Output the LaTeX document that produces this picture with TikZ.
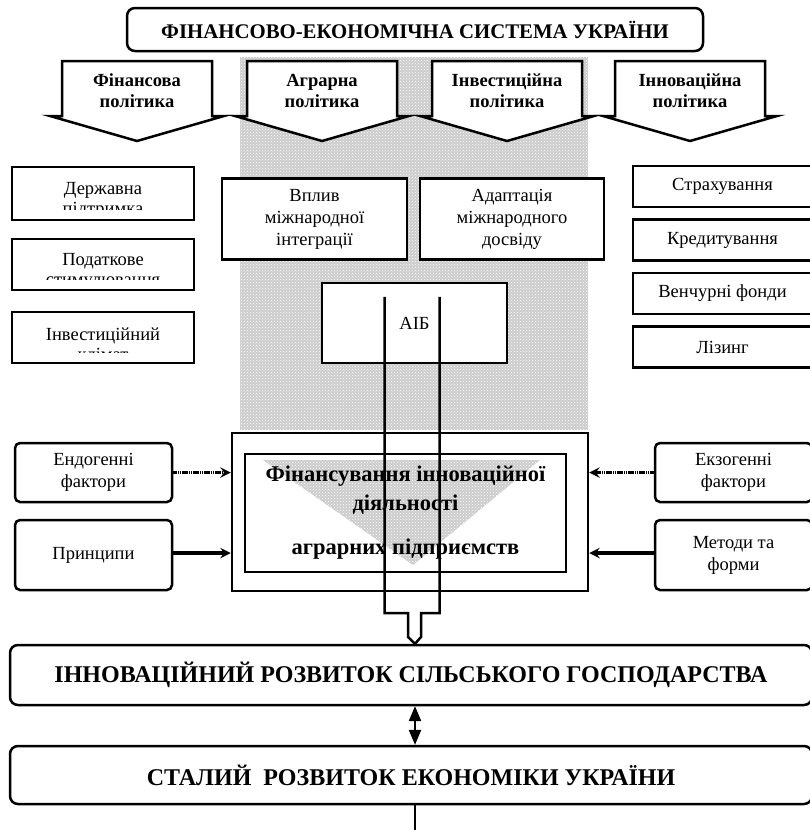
\documentclass[tikz,border=0pt]{standalone}
\usepackage{fontspec}
\setmainfont{Liberation Serif}
\usepackage{tikz}
\usetikzlibrary{shapes, arrows, positioning, patterns, calc}

\begin{document}
\begin{tikzpicture}[x=1pt, y=-1pt, node distance=10pt, auto]
    \tikzstyle{box} = [rectangle, draw, line width=2.5pt, fill=white, inner sep=0pt, align=center, font=\fontsize{18.5}{22}\selectfont]
    \tikzstyle{head} = [box, rounded corners=8pt, font=\bfseries\fontsize{24}{28}\selectfont]
    \tikzstyle{side} = [box, rounded corners=5pt, minimum width=157pt]
    \tikzstyle{left} = [box, minimum width=182pt]
    \tikzstyle{right} = [box, minimum width=179pt, minimum height=41pt]
    \tikzstyle{mid} = [box, minimum width=185pt, minimum height=81pt]
    \tikzstyle{policy} = [align=center, font=\bfseries\fontsize{18.5}{21}\selectfont]
    \tikzstyle{pentagon} = [draw, line width=2.5pt, fill=white]
    \tikzstyle{texture} = [fill=black!20, postaction={pattern=crosshatch dots, pattern color=white}]
    \tikzstyle{feed} = [line width=3.5pt, ->, >=stealth]
    \tikzstyle{hatched} = [feed, dash pattern=on 1.5pt off 0.7pt]
    \tikzstyle{link} = [line width=2.5pt, <->, >=triangle 45]
    \tikzstyle{pipe} = [line width=2.5pt]
    \tikzset{cut/.style={path picture={
        \clip ([yshift=11pt]path picture bounding box.south west) rectangle (path picture bounding box.north east);
        \node[anchor=north, align=center, inner sep=0pt, font=\fontsize{18.5}{20}\selectfont]
            at ([yshift=-6pt]path picture bounding box.north) {#1};}}}

    \useasboundingbox (0,0) rectangle (810,830);

    \fill[texture] (240,57) rectangle (588,430);
    \fill[texture] (263,460) -- (540,460) -- (413,565) -- cycle;

    \node[head, minimum width=576pt, minimum height=43pt, font=\bfseries\fontsize{20.8}{24}\selectfont] (system) at (415,29.5) {ФІНАНСОВО-ЕКОНОМІЧНА СИСТЕМА УКРАЇНИ};

    \foreach \cx/\txt [count=\i] in {137/{Фінансова\\політика}, 322/{Аграрна\\політика}, 507/{Інвестиційна\\політика}, 690/{Інноваційна\\політика}} {
        \draw[pentagon] (\cx-75,61) -- (\cx+75,61) -- (\cx+75,116) -- (\cx+87,116) -- (\cx,141) -- (\cx-87,116) -- (\cx-75,116) -- cycle;
        \node[policy] (policy\i) at (\cx,91) {\txt};
    }

    \node[left, minimum height=53pt, cut={Державна\\підтримка}] (support) at (103,193.5) {};
    \node[left, minimum height=51pt, cut={Податкове\\стимулювання}] (taxes) at (103,264.5) {};
    \node[left, minimum height=51pt, cut={Інвестиційний\\клімат}] (climate) at (103,337.5) {};

    \node[mid] (influence) at (314.5,219) {Вплив\\міжнародної\\інтеграції};
    \node[mid, minimum width=184pt] (adaptation) at (512,219) {Адаптація\\міжнародного\\досвіду};
    \node[mid, minimum height=80pt] (aib) at (414.5,323) {АІБ};

    \node[right] (insurance) at (722.5,186.5) {Страхування};
    \node[right, below=10pt of insurance] (credit) {Кредитування};
    \node[right, below=10pt of credit] (venture) {Венчурні фонди};
    \node[right, below=10pt of venture] (leasing) {Лізинг};

    \node[box, fill=none, minimum width=356pt, minimum height=158pt] (outer) at (410,512) {};
    \node[box, fill=none, minimum width=321pt, minimum height=118pt, font=\bfseries\fontsize{22.5}{29}\selectfont] (financing) at (405.5,513) {Фінансування інноваційної\\діяльності\\[15pt]аграрних підприємств};

    \node[side, minimum height=59pt] (endo) at (93.5,472.5) {Ендогенні\\фактори};
    \node[side, minimum height=70pt] (principles) at (93.5,555) {Принципи};
    \node[side, minimum height=59pt] (exo) at (733.5,472.5) {Екзогенні\\фактори};
    \node[side, minimum height=70pt] (methods) at (733.5,555) {Методи та\\форми};

    \node[head, minimum width=802pt, minimum height=60pt] (innovation) at (411,675) {ІННОВАЦІЙНИЙ РОЗВИТОК СІЛЬСЬКОГО ГОСПОДАРСТВА};
    \node[head, minimum width=802pt, minimum height=58pt] (stable) at (411,775) {СТАЛИЙ\ \ РОЗВИТОК ЕКОНОМІКИ УКРАЇНИ};

    \draw[hatched] (endo.east) -- (endo.east -| outer.west);
    \draw[feed] ([yshift=2pt]principles.east) -- ([yshift=2pt]principles.east -| outer.west);
    \draw[hatched] (exo.west) -- (exo.west -| outer.east);
    \draw[feed] ([yshift=2pt]methods.west) -- ([yshift=2pt]methods.west -| outer.east);

    \draw[pipe] ([xshift=-30pt,yshift=-15pt]aib.north) |- (408,613) -- (408,637) -- ([xshift=4pt]innovation.north);
    \draw[pipe] ([xshift=25pt,yshift=-15pt]aib.north) |- (421,613) -- (421,637) -- ([xshift=4pt]innovation.north);

    \draw[link] ([xshift=4pt]innovation.south) -- ([xshift=4pt]stable.north);
    \draw[pipe] ([xshift=4pt]stable.south) -- ++(0,40);
\end{tikzpicture}
\end{document}
